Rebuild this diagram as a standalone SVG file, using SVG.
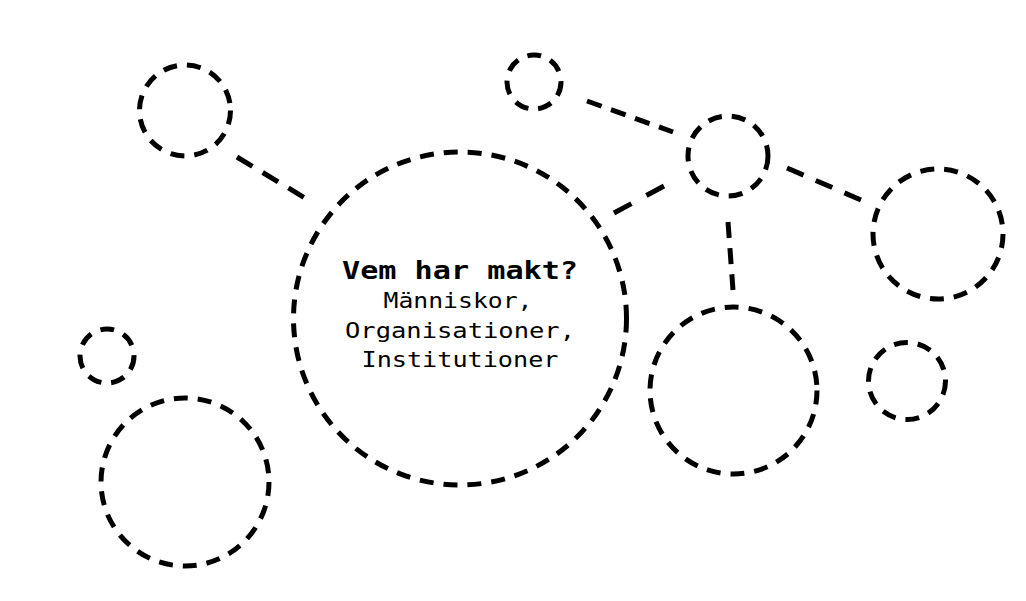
<svg xmlns="http://www.w3.org/2000/svg" width="1026" height="601" viewBox="0 0 1026 601">
<style>
.n{fill:none;stroke:#000;stroke-width:5;stroke-dasharray:14 10}
.c{fill:none;stroke:#000;stroke-width:5}
.t{font-family:"DejaVu Sans Mono","Liberation Mono",monospace;fill:#000;text-anchor:middle}
.h{font-size:24px;font-weight:bold}
.s{font-size:21px}
</style>
<rect width="1026" height="601" fill="#fff"/>
<g id="connectors">
<line class="c" x1="237" y1="157" x2="305" y2="198" stroke-dasharray="18 12"/>
<line class="c" x1="587" y1="101" x2="673" y2="132" stroke-dasharray="15.5 10"/>
<line class="c" x1="664" y1="186" x2="614" y2="213" stroke-dasharray="20 17"/>
<line class="c" x1="787" y1="168" x2="861" y2="200" stroke-dasharray="18 13.3"/>
<line class="c" x1="728" y1="222" x2="733" y2="290" stroke-dasharray="16 10.2"/>
</g>
<g id="main"><circle class="n" cx="460" cy="318.5" r="166.5"/>
<text class="t h" x="460" y="279" textLength="236" lengthAdjust="spacingAndGlyphs">Vem har makt?</text>
<text class="t s" x="458" y="308" textLength="149" lengthAdjust="spacingAndGlyphs">Människor,</text>
<text class="t s" x="460" y="338" textLength="230" lengthAdjust="spacingAndGlyphs">Organisationer,</text>
<text class="t s" x="460" y="367" textLength="197" lengthAdjust="spacingAndGlyphs">Institutioner</text>
</g>
<g id="n1"><circle class="n" cx="185" cy="110.5" r="45.5"/></g>
<g id="n2"><circle class="n" cx="534" cy="82" r="27"/></g>
<g id="n3"><circle class="n" cx="728" cy="156" r="40"/></g>
<g id="n4"><circle class="n" cx="938" cy="234" r="65"/></g>
<g id="n5"><circle class="n" cx="733.5" cy="390.5" r="83.5"/></g>
<g id="n6"><circle class="n" cx="907" cy="381" r="38.5"/></g>
<g id="n7"><circle class="n" cx="107" cy="356" r="27"/></g>
<g id="n8"><circle class="n" cx="185" cy="482" r="84"/></g>
</svg>
